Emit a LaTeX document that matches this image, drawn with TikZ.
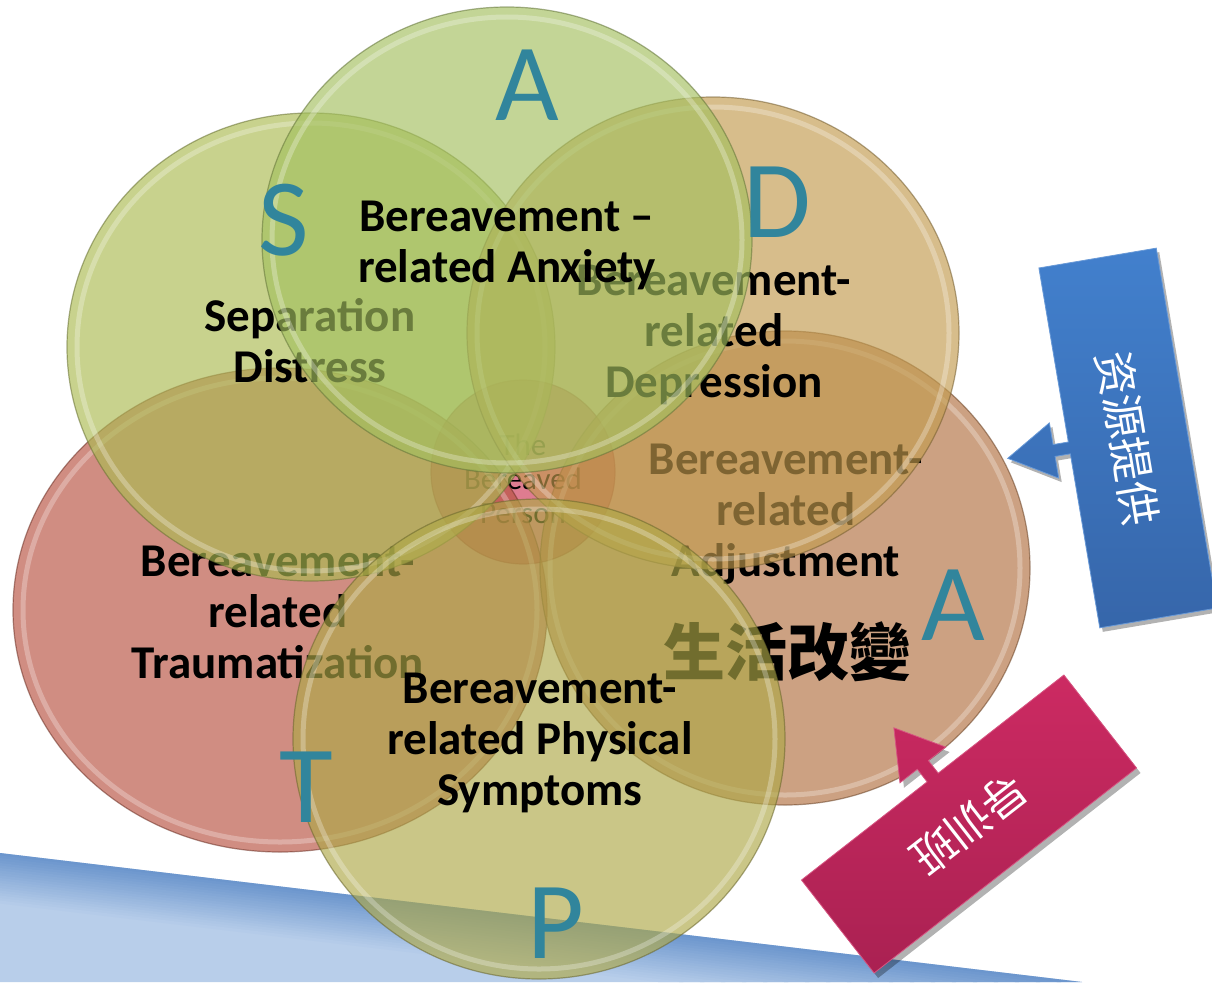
\documentclass[tikz,border=0pt]{standalone}
\usepackage{fontspec}
\setmainfont{Carlito}
\newfontfamily\cjktc{Noto Sans CJK TC}
\newfontfamily\cjksc{Noto Sans CJK SC}
\usetikzlibrary{shapes.geometric}

\definecolor{tealL}{RGB}{49,133,156}
\definecolor{cA}{RGB}{163,192,94}
\definecolor{cS}{RGB}{171,186,81}
\definecolor{cD}{RGB}{194,155,78}
\definecolor{cAA}{RGB}{178,112,63}
\definecolor{cT}{RGB}{183,81,63}
\definecolor{cP}{RGB}{174,168,71}
\definecolor{cC}{RGB}{205,55,86}
\definecolor{blueDark}{RGB}{54,102,170}
\definecolor{blueLight}{RGB}{66,128,205}
\definecolor{pinkDark}{RGB}{170,33,82}
\definecolor{pinkLight}{RGB}{204,42,98}
\definecolor{bandTop}{RGB}{108,150,205}
\definecolor{bandMid}{RGB}{184,206,234}

\tikzset{
  petal/.style={ellipse, inner sep=0pt, fill=#1, fill opacity=0.65,
    draw=#1!60!black, draw opacity=0.55, line width=1.2pt},
  ring/.style={draw=white, draw opacity=0.28, line width=5pt},
  lbl/.style={font=\bfseries\fontsize{47}{51}\selectfont, align=center,
    inner sep=0pt, text=black},
  letter/.style={font=\fontsize{110}{110}\selectfont, text=tealL,
    inner sep=0pt, anchor=base},
  calltext/.style={font=\cjksc\fontsize{44}{44}\selectfont, text=white,
    inner sep=0pt},
  callshadow/.style={fill=black, fill opacity=0.3},
  bluecall/.style={bottom color=blueDark, top color=blueLight,
    draw=blueLight!80!white, line width=0.8pt},
  pinkcall/.style={bottom color=pinkDark, top color=pinkLight,
    draw=pinkLight!80!white, line width=0.8pt}
}

% name, cx, cy, rx, ry, colour
\newcommand\petal[6]{%
  \node[petal=#6, minimum width=2*#4, minimum height=2*#5] (#1) at (#2,#3) {};
  \draw[ring] (#2,#3) ellipse [x radius=#4-10, y radius=#5-10];
}

\begin{document}
\begin{tikzpicture}[x=1pt,y=-1pt]
\useasboundingbox (0,0) rectangle (1212,982);
\fill[white] (0,0) rectangle (1212,982);

% blue band at the bottom: light body, darker strip along its upper edge
\fill[bandMid] (0,853) -- (1082,982) -- (0,982) -- cycle;
\foreach \i in {0,...,19}{
  \pgfmathsetmacro\da{2.5*\i}
  \pgfmathsetmacro\db{2.5*\i+3}
  \pgfmathtruncatemacro\pc{100-5*\i}
  \fill[bandTop!\pc!bandMid] (0,{853+\da}) -- ({1082-8.39*\da},982)
    -- ({1082-8.39*\db},982) -- (0,{853+\db}) -- cycle;
}

% centre circle
\node[petal=cC, minimum width=184, minimum height=184] (ctr) at (523,472) {};
\node[font=\fontsize{31}{34}\selectfont, align=center, inner sep=0pt] (tctr)
  at (523,479) {The\\Bereaved\\Person};

% T
\petal{cirT}{280}{610}{267}{242}{cT}
\node[lbl] (tT) at (278,612) {Bereavement-\\related\\Traumatization};

% S
\petal{cirS}{311}{347}{244}{234}{cS}
\node[lbl] (tS) at (310,341) {Separation\\Distress};

% A (adjustment)
\petal{cirAA}{785}{568}{245}{237}{cAA}
\node[lbl] (tAA) at (786,514) {Bereavement-\\related\\Adjustment};
\node[font=\cjktc\bfseries\fontsize{62}{62}\selectfont, inner sep=0pt] (tLife)
  at (787,652) {生活改變};

% D
\petal{cirD}{713}{333}{246}{236}{cD}
\node[lbl] (tD) at (714,335) {Bereavement-\\related\\Depression};

% A (anxiety)
\petal{cirA}{507}{240}{245}{233}{cA}
\node[lbl] (tA) at (507,245) {Bereavement --\\related Anxiety};

% P
\petal{cirP}{539}{739}{246}{240}{cP}
\node[lbl] (tP) at (540,743) {Bereavement-\\related Physical\\Symptoms};

% letters
\node[letter] (lA1) at (527,120) {A};
\node[letter] (lS) at (284,255) {S};
\node[letter] (lD) at (777,237) {D};
\node[letter] (lA2) at (953,640) {A};
\node[letter] (lT) at (306,822) {T};
\node[letter] (lP) at (556,958) {P};

% blue callout
\begin{scope}[shift={(1131,442)}, rotate=-80.4, x=1pt, y=1pt]
  \path[callshadow] (-182.5,59.5) -- (182.5,59.5) -- (182.5,-59.5) -- (6,-59.5)
    -- (6,-75) -- (28,-75) -- (0,-122) -- (-28,-75) -- (-6,-75) -- (-6,-59.5)
    -- (-182.5,-59.5) -- cycle;
\end{scope}
\begin{scope}[shift={(1128,438)}, rotate=-80.4, x=1pt, y=1pt]
  \path[bluecall] (-182.5,59.5) -- (182.5,59.5) -- (182.5,-59.5) -- (6,-59.5)
    -- (6,-75) -- (28,-75) -- (0,-122) -- (-28,-75) -- (-6,-75) -- (-6,-59.5)
    -- (-182.5,-59.5) -- cycle;
  \node[calltext, rotate=-80.4] (tBlue) at (0,0) {资源提供};
\end{scope}

% pink callout
\begin{scope}[shift={(973,829)}, rotate=218, x=1pt, y=1pt]
  \path[callshadow] (-166.5,59) -- (166.5,59) -- (166.5,-59) -- (7,-59)
    -- (7,-75) -- (29,-75) -- (0,-122) -- (-29,-75) -- (-7,-75) -- (-7,-59)
    -- (-166.5,-59) -- cycle;
\end{scope}
\begin{scope}[shift={(969,824)}, rotate=218, x=1pt, y=1pt]
  \path[pinkcall] (-166.5,59) -- (166.5,59) -- (166.5,-59) -- (7,-59)
    -- (7,-75) -- (29,-75) -- (0,-122) -- (-29,-75) -- (-7,-75) -- (-7,-59)
    -- (-166.5,-59) -- cycle;
  \node[calltext, rotate=218] (tPink) at (0,0) {导训班};
\end{scope}
\end{tikzpicture}
\end{document}
